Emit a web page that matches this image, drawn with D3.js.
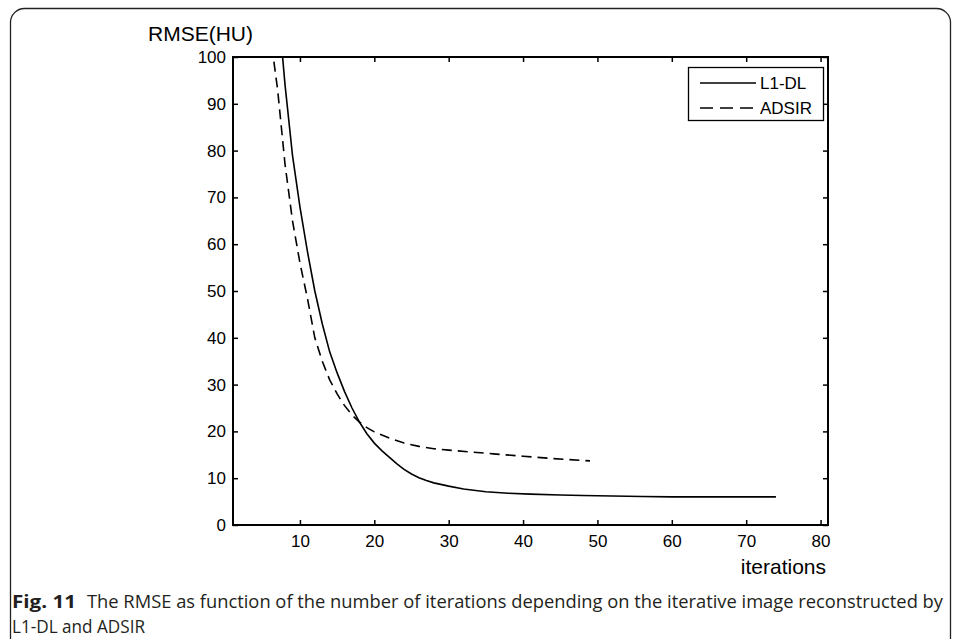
<!DOCTYPE html>
<html>
<head>
<meta charset="utf-8"/>
<script src="https://cdn.jsdelivr.net/npm/d3@7"></script>
<style>
body { margin: 0; background: #fff; }
.tick text { font-family: "Liberation Sans", Arial, sans-serif; font-size: 17px; fill: #000; }
.tick line { stroke: #000; stroke-width: 1.5; }
.lbl { font-family: "Liberation Sans", Arial, sans-serif; font-size: 21px; fill: #000; }
.leg { font-family: "Liberation Sans", Arial, sans-serif; font-size: 17px; fill: #000; }
.cap { font-family: "Open Sans", "Noto Sans", sans-serif; font-size: 18px; fill: #231f20; }
</style>
</head>
<body>
<svg id="chart" width="957" height="639"></svg>
<script>
// iterations / RMSE
var l1dlIter = [7, 8, 9, 10, 11, 12, 13, 14, 15, 16, 17, 18, 19, 20, 21, 22, 23, 24, 25, 26, 27, 28, 30, 32, 35, 38, 41, 45, 48, 52, 56, 60, 65, 70, 74];
var l1dlRmse = [112, 94, 79, 68, 58.5, 50, 43, 37, 32.5, 28.5, 25, 22, 19.5, 17.5, 15.9, 14.5, 13.1, 11.9, 10.9, 10.1, 9.5, 9.0, 8.3, 7.7, 7.1, 6.8, 6.6, 6.4, 6.3, 6.2, 6.1, 6.0, 6.0, 6.0, 6.0];

var adsirIter = [6.5, 7, 8, 9, 10, 11, 12, 13, 14, 15, 16, 17, 18, 19, 20, 22, 24, 26, 28, 30, 33, 36, 40, 44, 49];
var adsirRmse = [99, 93, 77, 65, 56, 48.5, 40, 35, 31, 28, 25.5, 23.5, 22, 20.8, 19.9, 18.6, 17.5, 16.8, 16.3, 16, 15.6, 15.2, 14.7, 14.2, 13.7];

var xTicks = [10, 20, 30, 40, 50, 60, 70, 80];
var yTicks = [0, 10, 20, 30, 40, 50, 60, 70, 80, 90, 100];
var seriesNames = ["L1-DL", "ADSIR"];

var svg = d3.select("#chart");

// outer frame of the figure panel
svg.append("rect")
    .attr("x", 10.5).attr("y", 8.5)
    .attr("width", 940).attr("height", 700)
    .attr("rx", 14)
    .attr("fill", "none")
    .attr("stroke", "#222")
    .attr("stroke-width", 1.3);

var pLeft = 233, pRight = 828, pTop = 57, pBottom = 525;

var x = d3.scaleLinear().domain([1, 81]).range([pLeft, pRight]);
var y = d3.scaleLinear().domain([0, 100]).range([pBottom, pTop]);

svg.append("clipPath").attr("id", "plotclip")
  .append("rect")
    .attr("x", pLeft).attr("y", pTop)
    .attr("width", pRight - pLeft).attr("height", pBottom - pTop);

// axes with inward ticks, MATLAB style box
svg.append("g")
    .attr("transform", "translate(0," + pBottom + ")")
    .call(d3.axisBottom(x).tickValues(xTicks).tickSizeInner(-5).tickSizeOuter(0).tickPadding(10))
    .call(function(g) { g.select(".domain").remove(); });

svg.append("g")
    .attr("transform", "translate(0," + pTop + ")")
    .call(d3.axisTop(x).tickValues(xTicks).tickSizeInner(-5).tickSizeOuter(0).tickFormat(""))
    .call(function(g) { g.select(".domain").remove(); });

svg.append("g")
    .attr("transform", "translate(" + pLeft + ",0)")
    .call(d3.axisLeft(y).tickValues(yTicks).tickSizeInner(-5).tickSizeOuter(0).tickPadding(7))
    .call(function(g) { g.select(".domain").remove(); });

svg.append("g")
    .attr("transform", "translate(" + pRight + ",0)")
    .call(d3.axisRight(y).tickValues(yTicks).tickSizeInner(-5).tickSizeOuter(0).tickFormat(""))
    .call(function(g) { g.select(".domain").remove(); });

svg.append("rect")
    .attr("x", pLeft).attr("y", pTop)
    .attr("width", pRight - pLeft).attr("height", pBottom - pTop)
    .attr("fill", "none")
    .attr("stroke", "#000")
    .attr("stroke-width", 2);

var line = d3.line()
    .x(function(d) { return x(d[0]); })
    .y(function(d) { return y(d[1]); });

var plot = svg.append("g").attr("clip-path", "url(#plotclip)");

plot.append("path")
    .datum(d3.zip(l1dlIter, l1dlRmse))
    .attr("d", line)
    .attr("fill", "none")
    .attr("stroke", "#000")
    .attr("stroke-width", 1.6);

plot.append("path")
    .datum(d3.zip(adsirIter, adsirRmse))
    .attr("d", line)
    .attr("fill", "none")
    .attr("stroke", "#000")
    .attr("stroke-width", 1.6)
    .attr("stroke-dasharray", "10,6");

// axis labels
svg.append("text").attr("class", "lbl")
    .attr("x", 148).attr("y", 41)
    .text("RMSE(HU)");

svg.append("text").attr("class", "lbl")
    .attr("x", 826).attr("y", 574)
    .attr("text-anchor", "end")
    .text("iterations");

// legend
var leg = svg.append("g");
leg.append("rect")
    .attr("x", 688.5).attr("y", 67.5)
    .attr("width", 135).attr("height", 53)
    .attr("fill", "#fff")
    .attr("stroke", "#000")
    .attr("stroke-width", 1.3);

seriesNames.forEach(function(name, i) {
  var ly = 83 + i * 25;
  leg.append("line")
      .attr("x1", 700).attr("x2", 756)
      .attr("y1", ly).attr("y2", ly)
      .attr("stroke", "#000")
      .attr("stroke-width", 1.6)
      .attr("stroke-dasharray", i === 1 ? "13,7" : null);
  leg.append("text").attr("class", "leg")
      .attr("x", 760).attr("y", ly + 6)
      .text(name);
});

// caption
var cap = svg.append("text").attr("class", "cap").attr("x", 12).attr("y", 608);
cap.append("tspan").attr("font-weight", "bold").attr("textLength", 64).attr("lengthAdjust", "spacingAndGlyphs").text("Fig. 11");
svg.append("text").attr("class", "cap")
    .attr("x", 87).attr("y", 608)
    .attr("textLength", 856).attr("lengthAdjust", "spacingAndGlyphs")
    .text("The RMSE as function of the number of iterations depending on the iterative image reconstructed by");
svg.append("text").attr("class", "cap")
    .attr("x", 12).attr("y", 633)
    .attr("textLength", 133).attr("lengthAdjust", "spacingAndGlyphs")
    .text("L1-DL and ADSIR");
</script>
</body>
</html>
